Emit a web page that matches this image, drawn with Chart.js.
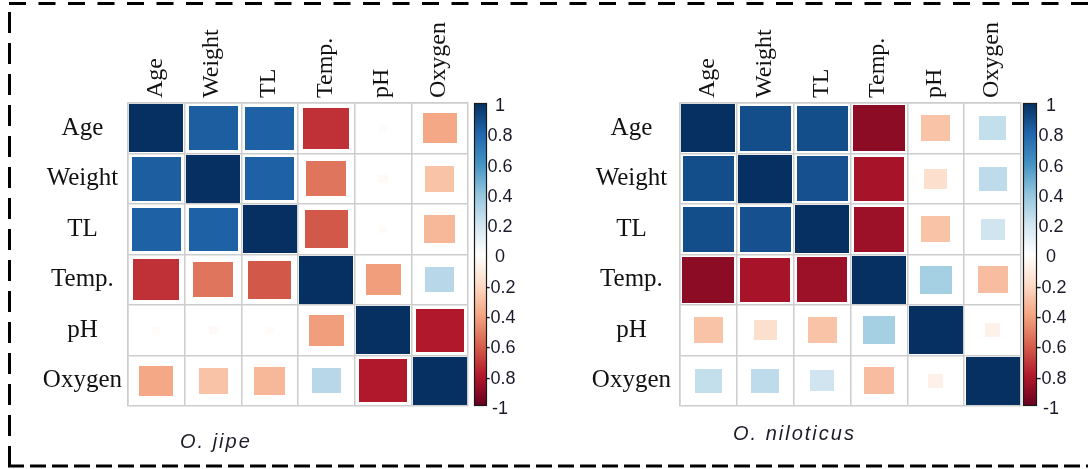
<!DOCTYPE html>
<html><head><meta charset="utf-8">
<script src="https://cdn.jsdelivr.net/npm/chart.js@4.4.1/dist/chart.umd.min.js"></script>
<style>
html,body{margin:0;padding:0;background:#fff;}
#wrap{position:relative;width:1088px;height:469px;overflow:hidden;background:#fff;}
canvas{position:absolute;top:0;}
#c1{left:0px}
#c2{left:544px}
.ttl{position:absolute;font-family:"Liberation Sans",Arial,sans-serif;font-style:italic;font-size:20px;letter-spacing:2px;color:#1c1c28;white-space:nowrap;line-height:1;}
#t1{left:180px;top:431px}
#t2{left:733px;top:423px}
svg{position:absolute;left:0;top:0;}
</style></head><body>
<div id="wrap">
<canvas id="c1" width="544" height="469"></canvas>
<canvas id="c2" width="544" height="469"></canvas>
<div class="ttl" id="t1">O. jipe</div>
<div class="ttl" id="t2">O. niloticus</div>
<svg width="1088" height="469">
  <line x1="9" y1="3.5" x2="1088" y2="3.5" stroke="#000" stroke-width="3" stroke-dasharray="17 12.5"/>
  <line x1="9.5" y1="12" x2="9.5" y2="467" stroke="#000" stroke-width="3" stroke-dasharray="21 10"/>
  <line x1="8" y1="466" x2="1088" y2="466" stroke="#000" stroke-width="3" stroke-dasharray="16 6"/>
</svg>
</div>
<script>
// ---- data ----
const variables = ['Age', 'Weight', 'TL', 'Temp.', 'pH', 'Oxygen'];

// O. jipe correlation matrix (rows in variable order)
const jipeAge    = [ 1.00,  0.83,  0.82, -0.73, -0.02, -0.39];
const jipeWeight = [ 0.83,  1.00,  0.82, -0.54, -0.03, -0.29];
const jipeTL     = [ 0.82,  0.82,  1.00, -0.62, -0.02, -0.33];
const jipeTemp   = [-0.73, -0.54, -0.62,  1.00, -0.42,  0.28];
const jipePH     = [-0.02, -0.03, -0.02, -0.42,  1.00, -0.80];
const jipeOxygen = [-0.39, -0.29, -0.33,  0.28, -0.80,  1.00];

// O. niloticus correlation matrix
const nilAge    = [ 1.00,  0.89,  0.89, -0.90, -0.29,  0.24];
const nilWeight = [ 0.89,  1.00,  0.88, -0.83, -0.18,  0.26];
const nilTL     = [ 0.89,  0.88,  1.00, -0.86, -0.29,  0.20];
const nilTemp   = [-0.90, -0.83, -0.86,  1.00,  0.34, -0.31];
const nilPH     = [-0.29, -0.18, -0.29,  0.34,  1.00, -0.08];
const nilOxygen = [ 0.24,  0.26,  0.20, -0.31, -0.08,  1.00];

const colorbarTicks = [1, 0.8, 0.6, 0.4, 0.2, 0, -0.2, -0.4, -0.6, -0.8, -1];

// ---- colour scale (RdBu, -1 .. 1) ----
const rdbuStops = ['#67001F','#B2182B','#D6604D','#F4A582','#FDDBC7','#FFFFFF','#D1E5F0','#92C5DE','#4393C3','#2166AC','#053061'];
function hex2rgb(h){return [parseInt(h.slice(1,3),16),parseInt(h.slice(3,5),16),parseInt(h.slice(5,7),16)];}
function rdbu(v){
  const t = (Math.max(-1,Math.min(1,v)) + 1) / 2 * (rdbuStops.length - 1);
  const i = Math.min(rdbuStops.length - 2, Math.floor(t));
  const f = t - i;
  const a = hex2rgb(rdbuStops[i]), b = hex2rgb(rdbuStops[i+1]);
  const c = a.map((x,k)=>Math.round(x + (b[k]-x)*f));
  return 'rgb(' + c.join(',') + ')';
}

const squareCache = {};
function squareStyle(ctx){
  const raw = ctx.raw;
  const ca = ctx.chart.chartArea;
  if (!raw || !ca) return 'rect';
  const n = variables.length;
  const cw = (ca.right - ca.left) / n, ch = (ca.bottom - ca.top) / n;
  const s = Math.sqrt(Math.abs(raw.v));
  const w = Math.max(1, Math.round((cw - 2.5) * s));
  const h = Math.max(1, Math.round((ch - 2.5) * s));
  const col = rdbu(raw.v);
  const key = w + 'x' + h + col;
  if (!squareCache[key]) {
    const c = document.createElement('canvas');
    c.width = w; c.height = h;
    const g = c.getContext('2d');
    g.fillStyle = col; g.fillRect(0, 0, w, h);
    squareCache[key] = c;
  }
  return squareCache[key];
}

const colorbarPlugin = {
  id: 'colorbar',
  afterDraw(chart, args, opts){
    const s = chart.scales.cb, ca = chart.chartArea, ctx = chart.ctx;
    const x0 = ca.right + opts.gap, w = opts.width;
    const yTop = s.getPixelForValue(1), yBot = s.getPixelForValue(-1);
    const g = ctx.createLinearGradient(0, yBot, 0, yTop);
    rdbuStops.forEach((c, i) => g.addColorStop(i / (rdbuStops.length - 1), c));
    ctx.save();
    ctx.fillStyle = g;
    ctx.fillRect(x0, yTop, w, yBot - yTop);
    ctx.strokeStyle = '#1a1a1a';
    ctx.lineWidth = 1.2;
    ctx.strokeRect(x0 + 0.5, yTop + 0.5, w - 1, yBot - yTop - 1);
    ctx.restore();
  }
};

function buildChart(id, rows, cfg){
  const pts = [];
  rows.forEach((row, i) => row.forEach((v, j) => pts.push({x: variables[j], y: variables[i], v: v})));
  return new Chart(document.getElementById(id), {
    type: 'scatter',
    data: { datasets: [{ data: pts, pointStyle: squareStyle, pointRadius: 3, pointHoverRadius: 3 }] },
    plugins: [colorbarPlugin],
    options: {
      responsive: false, animation: false, devicePixelRatio: 1,
      events: [],
      layout: { padding: { left: 0, right: 0, top: 0, bottom: 63 } },
      plugins: { legend: {display: false}, tooltip: {enabled: false}, title: {display: false},
                 colorbar: { gap: cfg.barGap, width: cfg.barWidth } },
      scales: {
        x: {
          type: 'category', labels: variables, position: 'top', offset: true,
          grid: { offset: true, color: '#cdcdcd', lineWidth: 1.5, drawTicks: false },
          border: { display: true, color: '#cdcdcd', width: 1.5 },
          ticks: { autoSkip: false, minRotation: 90, maxRotation: 90, padding: 5, labelOffset: 28, color: '#111',
                   font: { family: '"Liberation Serif", "Times New Roman", serif', size: 24 } },
          afterFit: s => { s.height = cfg.top; }
        },
        y: {
          type: 'category', labels: variables, position: 'left', offset: true,
          grid: { offset: true, color: '#cdcdcd', lineWidth: 1.5, drawTicks: false },
          border: { display: true, color: '#cdcdcd', width: 1.5 },
          ticks: { autoSkip: false, crossAlign: 'center', padding: cfg.rowPad, color: '#111',
                   font: { family: '"Liberation Serif", "Times New Roman", serif', size: 25 } },
          afterFit: s => { s.width = cfg.left; }
        },
        cb: {
          type: 'linear', axis: 'y', position: 'right', min: -1, max: 1,
          grid: { drawOnChartArea: false, drawTicks: true, tickLength: cfg.tickLen, color: 'rgba(0,0,0,0)' },
          border: { display: false },
          afterBuildTicks: s => { s.ticks = colorbarTicks.map(v => ({value: v})); },
          ticks: { crossAlign: 'center', padding: 2.5, labelOffset: 3, color: '#1a1a2a',
                   font: { family: '"Liberation Sans", Arial, sans-serif', size: 18 },
                   callback: v => String(Math.round(v * 10) / 10) },
          afterFit: s => { s.width = cfg.right; }
        }
      }
    }
  });
}

buildChart('c1', [jipeAge, jipeWeight, jipeTL, jipeTemp, jipePH, jipeOxygen],
  { left: 128, top: 103, right: 544 - 468, rowPad: 6, barGap: 6, barWidth: 13, tickLen: 14 });
buildChart('c2', [nilAge, nilWeight, nilTL, nilTemp, nilPH, nilOxygen],
  { left: 136, top: 103, right: 544 - 477, rowPad: 9, barGap: 2, barWidth: 14, tickLen: 12 });
</script>
</body></html>
